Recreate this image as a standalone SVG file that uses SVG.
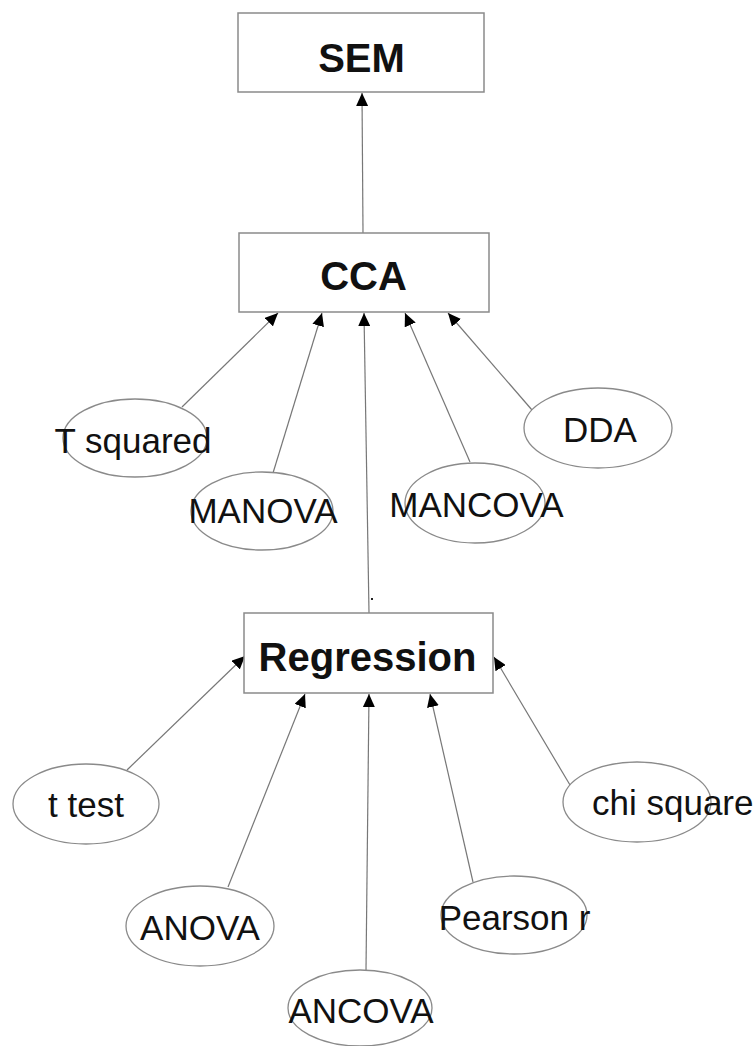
<svg xmlns="http://www.w3.org/2000/svg" width="753" height="1046" viewBox="0 0 753 1046">
<style>
.box{fill:#fff;stroke:#8a8a8a;stroke-width:1.5}
.ell{fill:#fff;stroke:#8a8a8a;stroke-width:1.3}
.bt{font-family:"Liberation Sans",Arial,sans-serif;font-weight:bold;font-size:40px;fill:#111;text-anchor:middle}
.et{font-family:"Liberation Sans",Arial,sans-serif;font-size:35px;fill:#111;text-anchor:middle}
.edge{stroke:#777;stroke-width:1.2;fill:none;marker-end:url(#ah)}
</style>
<defs>
<marker id="ah" markerUnits="userSpaceOnUse" markerWidth="14" markerHeight="12" refX="13" refY="6" orient="auto">
<path d="M0,0 L13,6 L0,12 Z" fill="#000"/>
</marker>
</defs>
<rect width="753" height="1046" fill="#fff"/>
<g id="connectors">
<line class="edge" x1="363" y1="233" x2="362" y2="93"/>
<line class="edge" x1="182" y1="407" x2="278" y2="313"/>
<line class="edge" x1="273" y1="473" x2="322" y2="313"/>
<line class="edge" x1="369" y1="613" x2="364" y2="313"/>
<line class="edge" x1="470" y1="462" x2="405" y2="313"/>
<line class="edge" x1="532" y1="410" x2="448" y2="313"/>
<line class="edge" x1="127" y1="770" x2="245" y2="656"/>
<line class="edge" x1="228" y1="887" x2="305" y2="694"/>
<line class="edge" x1="366" y1="970" x2="369" y2="694"/>
<line class="edge" x1="473" y1="882" x2="430" y2="694"/>
<line class="edge" x1="570" y1="785" x2="494" y2="657"/>
<rect x="371" y="598" width="2" height="2" fill="#222"/>
</g>
<g id="SEM">
<rect class="box" x="238" y="13" width="246" height="79"/>
<text class="bt" x="361.5" y="72">SEM</text>
</g>
<g id="CCA">
<rect class="box" x="239" y="233" width="250" height="79"/>
<text class="bt" x="363.5" y="290">CCA</text>
</g>
<g id="Regression">
<rect class="box" x="244" y="613" width="249" height="80"/>
<text class="bt" x="367.5" y="671">Regression</text>
</g>
<g id="Tsquared">
<ellipse class="ell" cx="135" cy="438" rx="72" ry="39"/>
<text class="et" x="133" y="453">T squared</text>
</g>
<g id="MANOVA">
<ellipse class="ell" cx="262" cy="511" rx="71" ry="39"/>
<text class="et" x="263" y="523">MANOVA</text>
</g>
<g id="MANCOVA">
<ellipse class="ell" cx="475" cy="503" rx="70" ry="40"/>
<text class="et" x="476.5" y="517">MANCOVA</text>
</g>
<g id="DDA">
<ellipse class="ell" cx="598" cy="428" rx="74" ry="40"/>
<text class="et" x="600" y="442">DDA</text>
</g>
<g id="ttest">
<ellipse class="ell" cx="86" cy="804" rx="73" ry="40"/>
<text class="et" x="86" y="817">t test</text>
</g>
<g id="ANOVA">
<ellipse class="ell" cx="200" cy="926" rx="74" ry="40"/>
<text class="et" x="200" y="940">ANOVA</text>
</g>
<g id="ANCOVA">
<ellipse class="ell" cx="360" cy="1008" rx="72" ry="38"/>
<text class="et" x="361" y="1023">ANCOVA</text>
</g>
<g id="Pearson">
<ellipse class="ell" cx="514" cy="915" rx="73" ry="39"/>
<text class="et" x="514.5" y="930">Pearson r</text>
</g>
<g id="chisquare">
<ellipse class="ell" cx="637" cy="802" rx="74" ry="40"/>
<text class="et" x="592" y="815" style="text-anchor:start">chi square</text>
</g>
</svg>
